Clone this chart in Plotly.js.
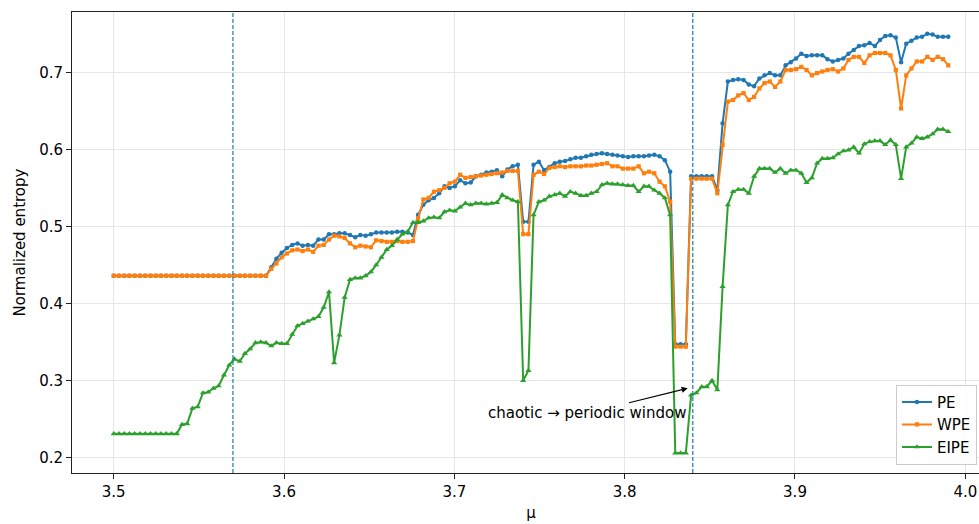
<!DOCTYPE html>
<html>
<head>
<meta charset="utf-8">
<script src="https://cdn.plot.ly/plotly-3.0.1.min.js"></script>
<style>
html,body{margin:0;padding:0;overflow:hidden;background:#fff;width:979px;height:524px;}
#chart{width:991px;height:524px;}
</style>
</head>
<body>
<div id="chart"></div>
<script>
const mu = [3.5000,3.5031,3.5062,3.5092,3.5123,3.5154,3.5185,3.5216,3.5247,3.5277,
3.5308,3.5339,3.5370,3.5401,3.5431,3.5462,3.5493,3.5524,3.5555,3.5586,
3.5616,3.5647,3.5678,3.5709,3.5740,3.5770,3.5801,3.5832,3.5863,3.5894,
3.5925,3.5955,3.5986,3.6017,3.6048,3.6079,3.6109,3.6140,3.6171,3.6202,
3.6233,3.6264,3.6294,3.6325,3.6356,3.6387,3.6418,3.6448,3.6479,3.6510,
3.6541,3.6572,3.6603,3.6633,3.6664,3.6695,3.6726,3.6757,3.6787,3.6818,
3.6849,3.6880,3.6911,3.6942,3.6972,3.7003,3.7034,3.7065,3.7096,3.7126,
3.7157,3.7188,3.7219,3.7250,3.7281,3.7311,3.7342,3.7373,3.7404,3.7435,
3.7465,3.7496,3.7527,3.7558,3.7589,3.7619,3.7650,3.7681,3.7712,3.7743,
3.7774,3.7804,3.7835,3.7866,3.7897,3.7928,3.7958,3.7989,3.8020,3.8051,
3.8082,3.8113,3.8143,3.8174,3.8205,3.8236,3.8267,3.8297,3.8328,3.8359,
3.8390,3.8421,3.8452,3.8482,3.8513,3.8544,3.8575,3.8606,3.8636,3.8667,
3.8698,3.8729,3.8760,3.8791,3.8821,3.8852,3.8883,3.8914,3.8945,3.8975,
3.9006,3.9037,3.9068,3.9099,3.9130,3.9160,3.9191,3.9222,3.9253,3.9284,
3.9314,3.9345,3.9376,3.9407,3.9438,3.9469,3.9499,3.9530,3.9561,3.9592,
3.9623,3.9653,3.9684,3.9715,3.9746,3.9777,3.9808,3.9838,3.9869,3.9900];

const pe = [0.436,0.436,0.436,0.436,0.436,0.436,0.436,0.436,0.436,0.436,
0.436,0.436,0.436,0.436,0.436,0.436,0.436,0.436,0.436,0.436,
0.436,0.436,0.436,0.436,0.436,0.436,0.436,0.436,0.436,0.436,
0.447,0.458,0.466,0.472,0.476,0.478,0.475,0.476,0.475,0.483,
0.483,0.490,0.490,0.491,0.491,0.489,0.486,0.489,0.488,0.490,
0.492,0.492,0.492,0.492,0.493,0.493,0.492,0.489,0.515,0.528,
0.534,0.537,0.543,0.552,0.550,0.552,0.560,0.556,0.557,0.565,
0.567,0.570,0.571,0.573,0.565,0.574,0.578,0.580,0.506,0.506,
0.580,0.584,0.573,0.577,0.582,0.584,0.585,0.587,0.589,0.589,
0.591,0.593,0.594,0.595,0.594,0.593,0.592,0.591,0.590,0.591,
0.591,0.591,0.592,0.593,0.591,0.586,0.571,0.347,0.347,0.347,
0.565,0.565,0.565,0.565,0.565,0.547,0.634,0.688,0.690,0.691,
0.690,0.684,0.682,0.692,0.696,0.699,0.696,0.696,0.709,0.713,
0.718,0.724,0.721,0.722,0.722,0.722,0.717,0.714,0.716,0.718,
0.724,0.729,0.734,0.735,0.738,0.734,0.742,0.747,0.748,0.745,
0.713,0.737,0.741,0.745,0.746,0.750,0.749,0.746,0.746,0.746];

const wpe = [0.436,0.436,0.436,0.436,0.436,0.436,0.436,0.436,0.436,0.436,
0.436,0.436,0.436,0.436,0.436,0.436,0.436,0.436,0.436,0.436,
0.436,0.436,0.436,0.436,0.436,0.436,0.436,0.436,0.436,0.436,
0.445,0.452,0.460,0.465,0.469,0.470,0.468,0.470,0.467,0.475,
0.476,0.483,0.488,0.487,0.485,0.478,0.473,0.475,0.474,0.473,
0.482,0.481,0.480,0.480,0.481,0.480,0.480,0.481,0.510,0.535,
0.537,0.545,0.547,0.550,0.556,0.558,0.567,0.563,0.564,0.565,
0.566,0.567,0.568,0.569,0.570,0.572,0.572,0.572,0.490,0.490,
0.567,0.571,0.568,0.576,0.577,0.578,0.577,0.578,0.578,0.578,
0.579,0.579,0.580,0.581,0.582,0.578,0.578,0.575,0.575,0.575,
0.578,0.569,0.571,0.569,0.558,0.552,0.532,0.344,0.344,0.344,
0.562,0.562,0.562,0.562,0.562,0.543,0.606,0.662,0.664,0.670,
0.673,0.664,0.668,0.679,0.686,0.688,0.681,0.688,0.703,0.703,
0.704,0.707,0.703,0.696,0.699,0.701,0.703,0.704,0.701,0.705,
0.716,0.720,0.720,0.712,0.722,0.725,0.725,0.725,0.722,0.703,
0.653,0.696,0.705,0.714,0.714,0.720,0.716,0.720,0.717,0.709];

const eipe = [0.231,0.231,0.231,0.231,0.231,0.231,0.231,0.231,0.231,0.231,
0.231,0.231,0.231,0.243,0.244,0.264,0.266,0.284,0.285,0.290,
0.293,0.307,0.320,0.328,0.325,0.335,0.341,0.349,0.350,0.349,
0.345,0.349,0.348,0.348,0.360,0.371,0.374,0.377,0.380,0.383,
0.395,0.415,0.323,0.359,0.408,0.431,0.433,0.433,0.436,0.441,
0.450,0.460,0.470,0.475,0.483,0.490,0.493,0.505,0.505,0.507,
0.511,0.512,0.511,0.519,0.521,0.520,0.525,0.530,0.528,0.530,
0.530,0.529,0.530,0.531,0.541,0.537,0.534,0.532,0.300,0.313,
0.515,0.532,0.534,0.539,0.541,0.543,0.539,0.545,0.543,0.540,
0.540,0.543,0.545,0.554,0.556,0.555,0.555,0.554,0.553,0.553,
0.545,0.552,0.552,0.547,0.543,0.537,0.515,0.206,0.206,0.206,
0.281,0.284,0.292,0.292,0.300,0.288,0.422,0.528,0.545,0.548,
0.548,0.543,0.565,0.575,0.575,0.575,0.570,0.575,0.569,0.573,
0.573,0.569,0.557,0.563,0.582,0.588,0.588,0.589,0.594,0.598,
0.599,0.603,0.595,0.607,0.610,0.611,0.611,0.606,0.612,0.606,
0.562,0.603,0.608,0.616,0.614,0.616,0.620,0.626,0.626,0.623];

const seriesNames = ["PE", "WPE", "EIPE"];
const vlines = [3.57, 3.84];
const xTickVals = [3.5, 3.6, 3.7, 3.8, 3.9, 4.0];
const xTickText = ["3.5", "3.6", "3.7", "3.8", "3.9", "4.0"];
const yTickVals = [0.2, 0.3, 0.4, 0.5, 0.6, 0.7];
const yTickText = ["0.2", "0.3", "0.4", "0.5", "0.6", "0.7"];
const annoText = "chaotic \u2192 periodic window";
const annoPoint = [3.837, 0.29];

const FONT = "DejaVu Sans, sans-serif";
const FS = 15;
const traces = [
  {x: mu, y: pe, name: seriesNames[0], mode: "lines+markers", type: "scatter",
   line: {color: "#1f77b4", width: 2}, marker: {symbol: "circle", size: 4.5, color: "#1f77b4"}},
  {x: mu, y: wpe, name: seriesNames[1], mode: "lines+markers", type: "scatter",
   line: {color: "#ff7f0e", width: 2}, marker: {symbol: "square", size: 4.2, color: "#ff7f0e"}},
  {x: mu, y: eipe, name: seriesNames[2], mode: "lines+markers", type: "scatter",
   line: {color: "#2ca02c", width: 2}, marker: {symbol: "triangle-up", size: 5.5, color: "#2ca02c"}}
];

const shapes = vlines.map(v => ({
  type: "line", xref: "x", yref: "paper", x0: v, x1: v, y0: 0, y1: 1,
  line: {color: "#1f77b4", width: 1.2, dash: "4px,2px"}
}));

const layout = {
  width: 991, height: 524,
  margin: {l: 72, r: 1, t: 12, b: 51},
  paper_bgcolor: "#fff", plot_bgcolor: "#fff",
  font: {family: FONT, size: FS, color: "#000"},
  showlegend: true,
  xaxis: {
    range: [3.4755, 4.0145], tickvals: xTickVals, ticktext: xTickText,
    showgrid: true, gridcolor: "#e6e6e6", gridwidth: 1,
    showline: true, linecolor: "#222", linewidth: 1, mirror: true,
    ticks: "outside", ticklen: 5, tickcolor: "#222", zeroline: false,
    tickfont: {family: FONT, size: FS},
    title: {text: "\u03bc", standoff: 7, font: {family: FONT, size: FS}}
  },
  yaxis: {
    range: [0.1801, 0.7782], tickvals: yTickVals, ticktext: yTickText,
    showgrid: true, gridcolor: "#e6e6e6", gridwidth: 1,
    showline: true, linecolor: "#222", linewidth: 1, mirror: true,
    ticks: "outside", ticklen: 5, tickcolor: "#222", zeroline: false,
    tickfont: {family: FONT, size: FS},
    title: {text: "Normalized entropy", standoff: 9, font: {family: FONT, size: FS}}
  },
  legend: {
    x: 0.9858, y: 0.018, xanchor: "right", yanchor: "bottom",
    bgcolor: "rgba(255,255,255,0.85)", bordercolor: "#cccccc", borderwidth: 1,
    font: {family: FONT, size: FS}, itemwidth: 30, tracegroupgap: 4
  },
  shapes: shapes,
  annotations: [{
    x: annoPoint[0], y: annoPoint[1], xref: "x", yref: "y",
    text: annoText, showarrow: true, arrowhead: 2, arrowsize: 1, arrowwidth: 1.2,
    arrowcolor: "#000", ax: -101, ay: 25,
    font: {family: FONT, size: FS, color: "#000"}
  }]
};

Plotly.newPlot("chart", traces, layout, {displayModeBar: false, staticPlot: true});
</script>
</body>
</html>
